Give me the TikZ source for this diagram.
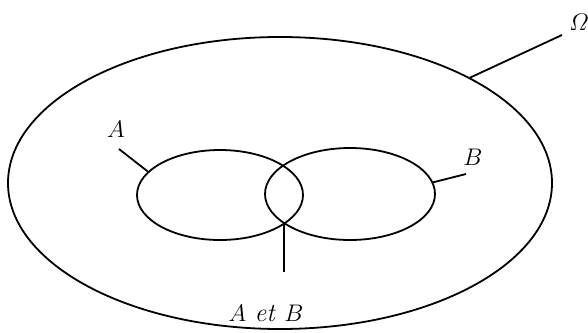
\documentclass[tikz,border=0pt]{standalone}
\usepackage{amsmath}
\usetikzlibrary{shapes.geometric}
\tikzstyle{set}=[ellipse, draw=black, line width=0.9pt, inner sep=0pt]
\tikzstyle{lbl}=[inner sep=0pt, font=\fontsize{13}{15}\selectfont]
\tikzstyle{link}=[line width=0.9pt]

\begin{document}
\begin{tikzpicture}[x=0.5pt, y=-0.5pt]
	\useasboundingbox (0,0) rectangle (588,332);

	% Univers et evenements
	\node[set, minimum width=272pt, minimum height=146pt] (omega) at (280,183) {};
	\node[set, minimum width=83pt, minimum height=45pt] (setA) at (220,195) {};
	\node[set, minimum width=85pt, minimum height=46pt] (setB) at (350,194) {};

	% Etiquettes
	\node[lbl] (labO) at (579,22) {$\varOmega$};
	\node[lbl] (labA) at (116,129) {$A$};
	\node[lbl] (labB) at (473,157) {$B$};
	\node[lbl] (labAB) at (266,313) {$A$ \textit{et} $B$};

	% Bouts libres des traits
	\coordinate (endO) at (562,35);
	\coordinate (endA) at (119,149);
	\coordinate (endB) at (466,174);
	\coordinate (inter) at (284,222);
	\coordinate (endAB) at (284,272);

	\draw[link] (omega.29.5) -- (endO);
	\draw[link] (setA.162) -- (endA);
	\draw[link] (setB.8) -- (endB);
	\draw[link] (inter) -- (endAB);
\end{tikzpicture}
\end{document}
